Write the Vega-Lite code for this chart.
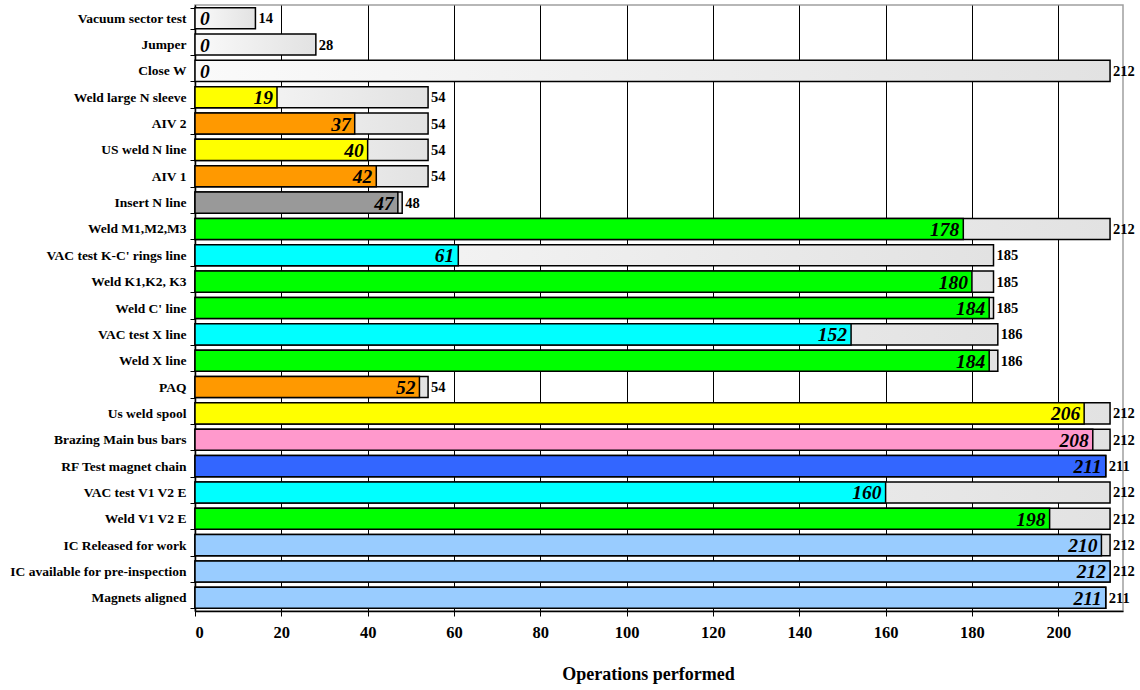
{
  "$schema": "https://vega.github.io/schema/vega-lite/v6.json",
  "autosize": {"type": "none"},
  "padding": {"left": 195, "top": 5, "right": 17, "bottom": 79},
  "width": 928,
  "height": 606,
  "background": "white",
  "config": {
    "view": {"stroke": "#a0a0a0", "strokeWidth": 1.5},
    "font": "Liberation Serif"
  },
  "data": {
    "values": [
      {"task": "Vacuum sector test", "done": 0, "total": 14, "type": "none"},
      {"task": "Jumper", "done": 0, "total": 28, "type": "none"},
      {"task": "Close W", "done": 0, "total": 212, "type": "none"},
      {"task": "Weld large N sleeve", "done": 19, "total": 54, "type": "US weld"},
      {"task": "AIV 2", "done": 37, "total": 54, "type": "AIV"},
      {"task": "US weld N line", "done": 40, "total": 54, "type": "US weld"},
      {"task": "AIV 1", "done": 42, "total": 54, "type": "AIV"},
      {"task": "Insert N line", "done": 47, "total": 48, "type": "Insert"},
      {"task": "Weld M1,M2,M3", "done": 178, "total": 212, "type": "Weld"},
      {"task": "VAC test K-C' rings line", "done": 61, "total": 185, "type": "VAC"},
      {"task": "Weld K1,K2, K3", "done": 180, "total": 185, "type": "Weld"},
      {"task": "Weld C' line", "done": 184, "total": 185, "type": "Weld"},
      {"task": "VAC test X line", "done": 152, "total": 186, "type": "VAC"},
      {"task": "Weld X line", "done": 184, "total": 186, "type": "Weld"},
      {"task": "PAQ", "done": 52, "total": 54, "type": "AIV"},
      {"task": "Us weld spool", "done": 206, "total": 212, "type": "US weld"},
      {"task": "Brazing Main bus bars", "done": 208, "total": 212, "type": "Brazing"},
      {"task": "RF Test magnet chain", "done": 211, "total": 211, "type": "RF"},
      {"task": "VAC test V1 V2 E ", "done": 160, "total": 212, "type": "VAC"},
      {"task": "Weld V1 V2 E", "done": 198, "total": 212, "type": "Weld"},
      {"task": "IC Released for work", "done": 210, "total": 212, "type": "IC"},
      {"task": "IC available for pre-inspection", "done": 212, "total": 212, "type": "IC"},
      {"task": "Magnets aligned", "done": 211, "total": 211, "type": "IC"}
    ]
  },
  "encoding": {
    "y": {
      "field": "task",
      "type": "nominal",
      "sort": null,
      "scale": {"paddingInner": 0.2, "paddingOuter": 0.1},
      "axis": {
        "title": null,
        "labelFont": "Liberation Serif",
        "labelFontWeight": "bold",
        "labelFontSize": 13.5,
        "labelColor": "black",
        "labelPadding": 4,
        "tickBand": "extent",
        "tickSize": 5,
        "tickColor": "black",
        "domainColor": "black",
        "domainWidth": 1.5,
        "grid": false
      }
    }
  },
  "layer": [
    {
      "mark": {
        "type": "bar",
        "stroke": "black",
        "strokeWidth": 1.5,
        "color": {
          "gradient": "linear",
          "x1": 0, "x2": 1, "y1": 0, "y2": 0,
          "stops": [
            {"offset": 0, "color": "#fafafa"},
            {"offset": 1, "color": "#e2e2e2"}
          ]
        }
      },
      "encoding": {
        "x": {
          "field": "total",
          "type": "quantitative",
          "scale": {"domain": [0, 215], "nice": false},
          "axis": {
            "values": [0, 20, 40, 60, 80, 100, 120, 140, 160, 180, 200],
            "title": "Operations performed",
            "titleFont": "Liberation Serif",
            "titleFontSize": 18,
            "titleFontWeight": "bold",
            "titleColor": "black",
            "titlePadding": 25,
            "titleX": 453,
            "labelFont": "Liberation Serif",
            "labelFontSize": 16.5,
            "labelFontWeight": "bold",
            "labelColor": "black",
            "labelPadding": 8,
            "tickSize": 5,
            "tickColor": "black",
            "domainColor": "black",
            "domainWidth": 1.5,
            "grid": true,
            "gridColor": "black",
            "gridOpacity": 1,
            "gridWidth": 1
          }
        }
      }
    },
    {
      "transform": [{"filter": "datum.done > 0"}],
      "mark": {"type": "bar", "stroke": "black", "strokeWidth": 1.5},
      "encoding": {
        "x": {"field": "done", "type": "quantitative"},
        "color": {
          "field": "type",
          "type": "nominal",
          "scale": {
            "domain": ["US weld", "AIV", "Insert", "Weld", "VAC", "Brazing", "RF", "IC"],
            "range": ["#ffff00", "#ff9900", "#999999", "#00ff00", "#00ffff", "#ff99cc", "#3366ff", "#99ccff"]
          },
          "legend": null
        }
      }
    },
    {
      "transform": [{"filter": "datum.done > 0"}],
      "mark": {"type": "text", "align": "right", "baseline": "middle", "dx": -4, "dy": 1, "font": "Liberation Serif", "fontSize": 19.5, "fontWeight": "bold", "fontStyle": "italic", "color": "black"},
      "encoding": {
        "x": {"field": "done", "type": "quantitative"},
        "text": {"field": "done", "type": "quantitative"}
      }
    },
    {
      "transform": [{"filter": "datum.done == 0"}],
      "mark": {"type": "text", "align": "left", "baseline": "middle", "dx": 5, "dy": 1, "font": "Liberation Serif", "fontSize": 19.5, "fontWeight": "bold", "fontStyle": "italic", "color": "black"},
      "encoding": {
        "x": {"field": "done", "type": "quantitative"},
        "text": {"field": "done", "type": "quantitative"}
      }
    },
    {
      "mark": {"type": "text", "align": "left", "baseline": "middle", "dx": 3, "dy": 1, "font": "Liberation Serif", "fontSize": 14.5, "fontWeight": "bold", "color": "black"},
      "encoding": {
        "x": {"field": "total", "type": "quantitative"},
        "text": {"field": "total", "type": "quantitative"}
      }
    }
  ]
}
